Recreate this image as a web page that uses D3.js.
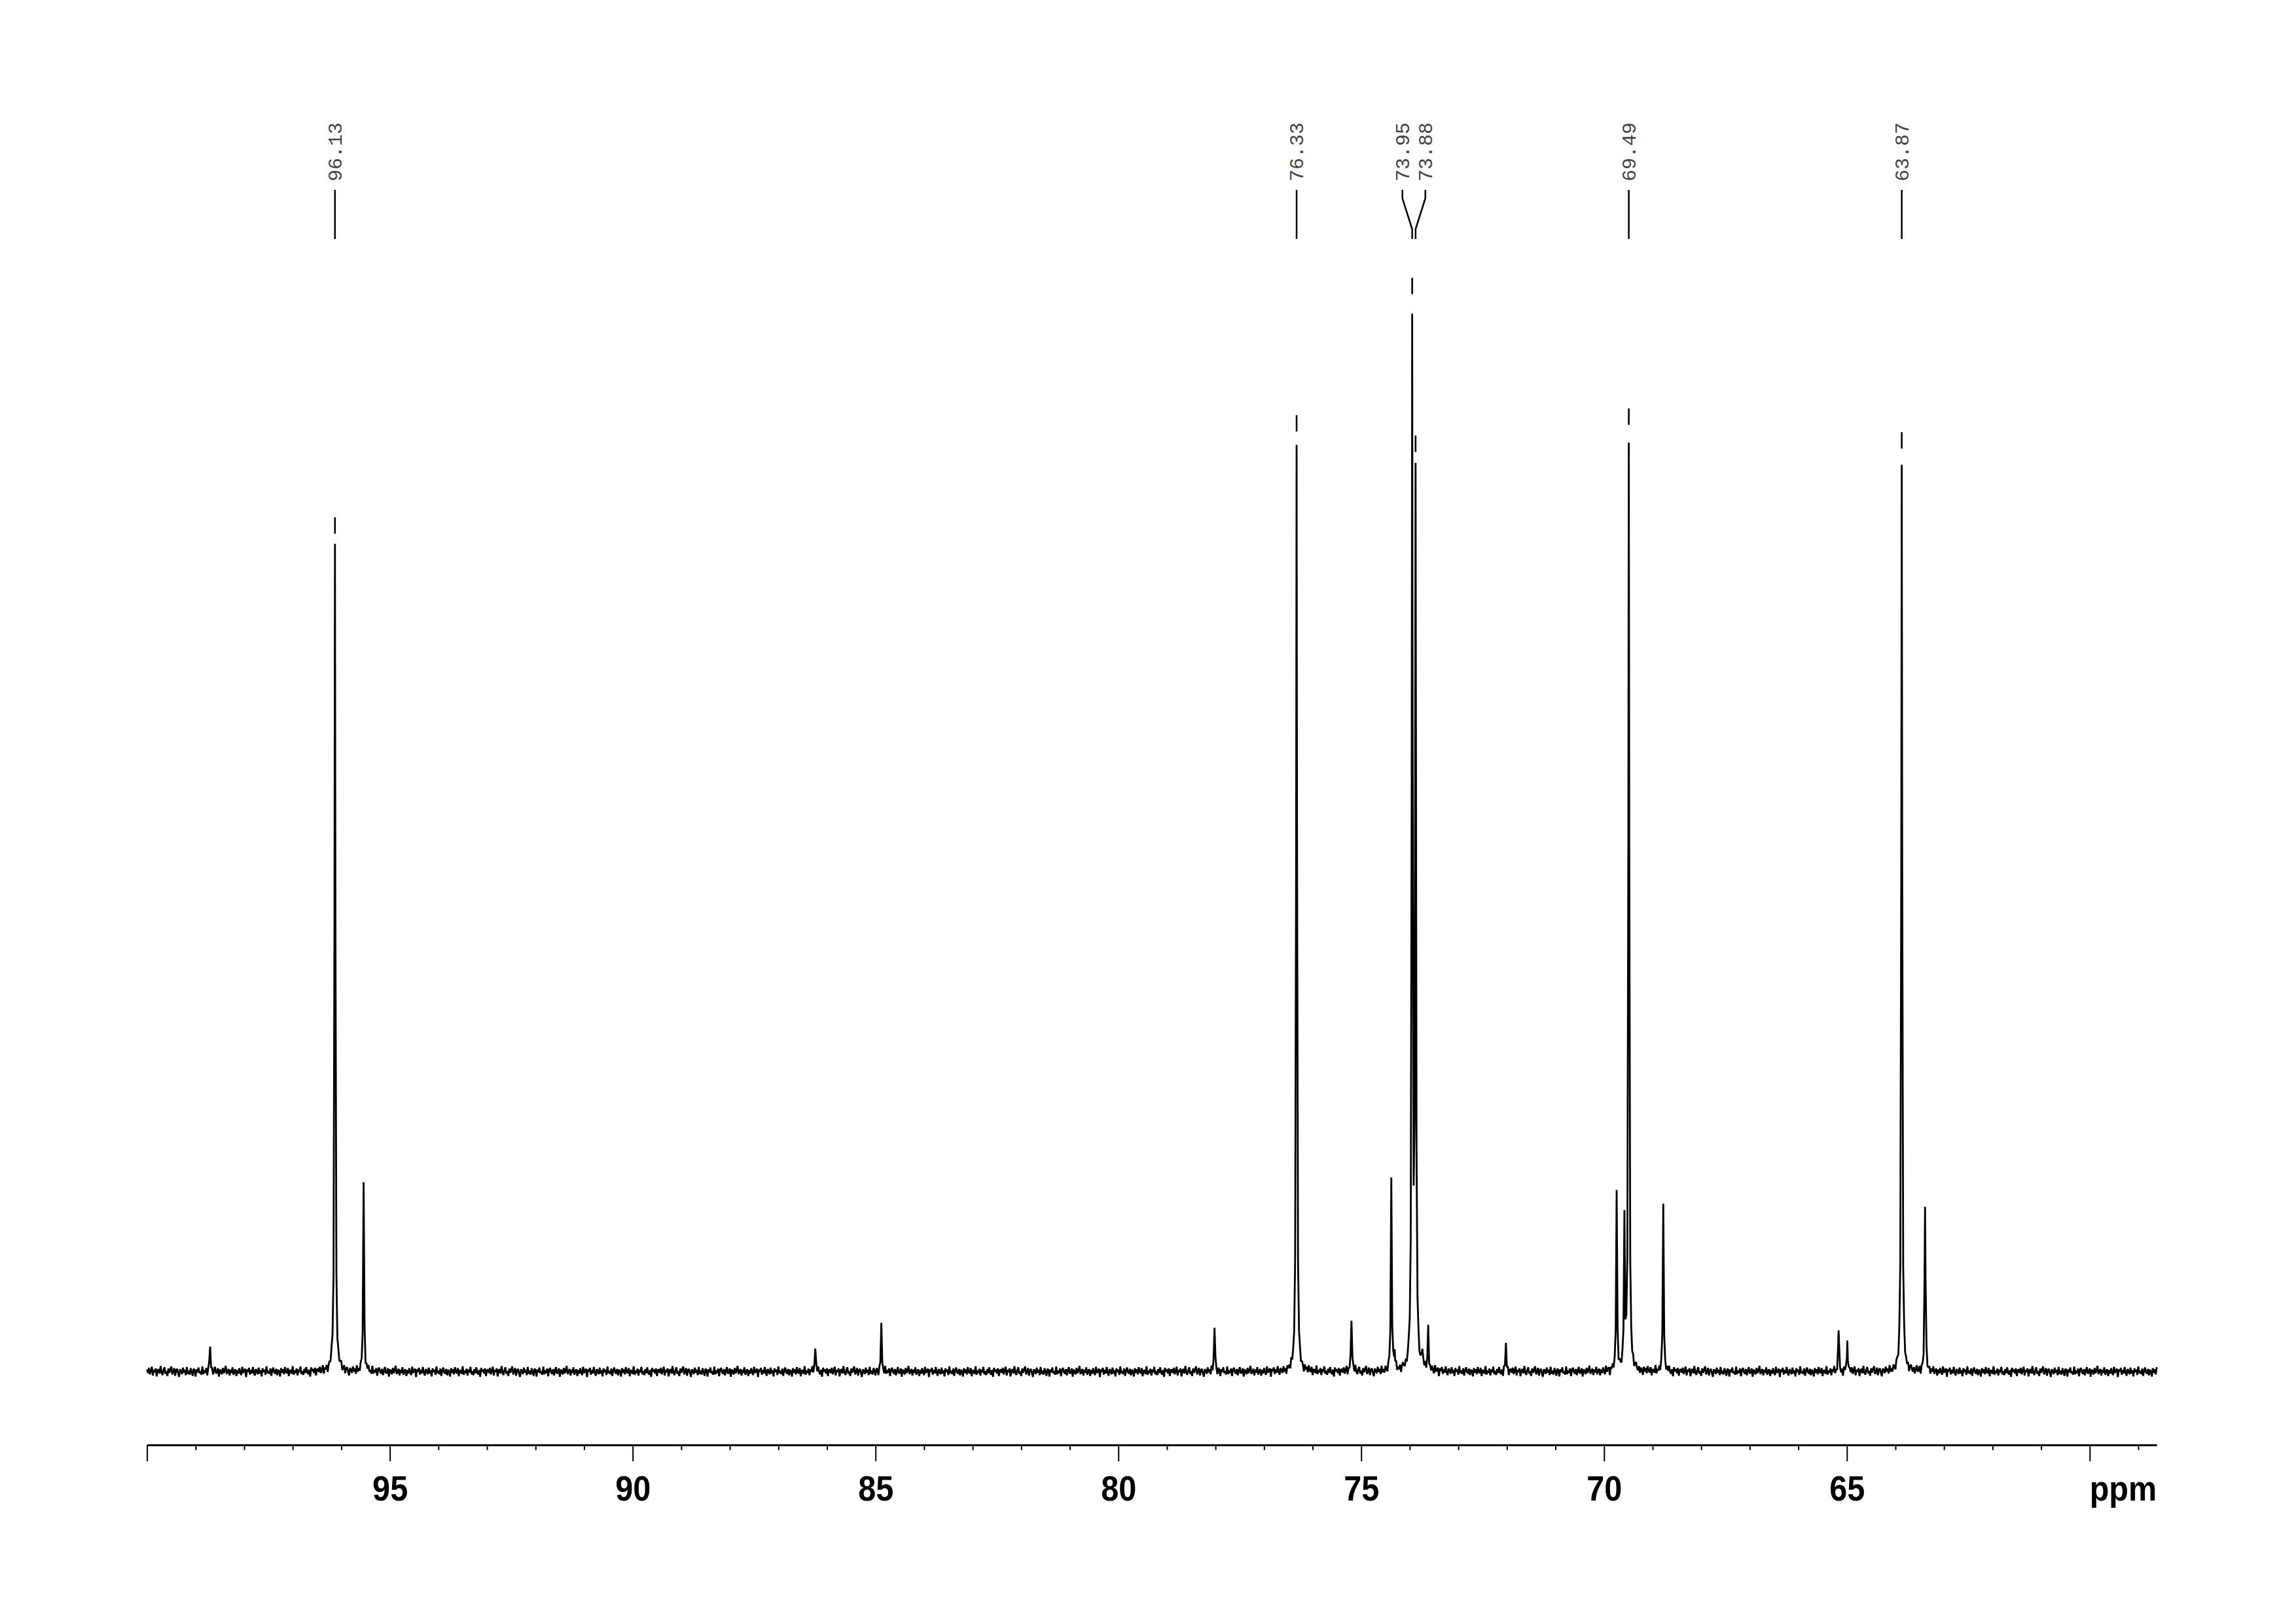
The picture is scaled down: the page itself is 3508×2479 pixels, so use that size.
<!DOCTYPE html>
<html>
<head>
<meta charset="utf-8">
<script src="https://cdn.jsdelivr.net/npm/d3@7/dist/d3.min.js"></script>
<style>
  html, body { margin: 0; padding: 0; background: #fff; }
  svg { display: block; }
</style>
</head>
<body>
<script>
// ---------- DATA ----------
// chemical shift range shown (ppm, reversed axis)
const ppmDomain = [100, 58.62];
// peak list: position (ppm) and height (relative, tallest = 100)
const peakShift  = [98.70, 96.13, 95.54, 86.24, 84.88, 78.02, 76.33, 75.20, 74.38, 74.31, 73.95, 73.88, 73.74, 73.62, 72.02, 69.74, 69.58, 69.49, 68.78, 65.17, 64.99, 63.87, 63.39];
const peakHeight = [  2.4,  77.4,  17.5,   2.5,   4.2,   4.4,  87.0,   5.2,  17.9,   1.5,  97.9,  82.7,   1.7,   3.9,   2.5,  16.4,  13.7,  87.4,  15.3,   4.0,   2.6,  85.4,  15.6];
// half width at half height of each line (ppm)
const lineHalfWidth = 0.011;
// peaks that carry a printed shift label
const labelledShift = [96.13, 76.33, 73.95, 73.88, 69.49, 63.87];
const labelText     = ["96.13", "76.33", "73.95", "73.88", "69.49", "63.87"];
// axis ticks
const majorTicks = [100, 95, 90, 85, 80, 75, 70, 65, 60];
const majorTickLabels = ["", "95", "90", "85", "80", "75", "70", "65", ""];
const minorTicks = [99,98,97,96,94,93,92,91,89,88,87,86,84,83,82,81,79,78,77,76,74,73,72,71,69,68,67,66,64,63,62,61,59];
const axisUnit = "ppm";
// baseline noise residual along the baseline (units of 1/60 of the height scale)
const baselineNoise = [12,-8,21,-15,4,27,-22,9,-3,18,-27,6,14,-11,31,-5,-19,8,24,-13,2,-25,17,-7,11,29,-16,-2,20,-23,7,15,-9,-30,13,3,-14,22,-6,10,-20,26,-12,5,-17,19,-1,-24,16,8,-28,12,-4,23,-10,1,-18,28,-15,6,-8,17,-26,9,21,-3,-13,14,-21,4,25,-11,-6,18,-29,11,2,-16,20,-9,7,32,-14,-2,15,-22,10,-7,24,-18,3,13,-25,8,-12,19,-4,-20,27,-8,5,16,-31,12,-1,21,-17,9,-10,26,-6,-23,14,2,-15,22,-11,7,-27,18,-3,11,-19,29,-9,4,-14,17,-24,6,23,-5,-12,15,-21,10,1,-28,19,-7,13,-16,25,-2,-10,20,-26,8,3,-13,30,-18,5,-8,16,-22,11,-4,27,-15,2,-20,14,-9,24,-6,-17,9,-30,21,-1,12,-11,18,-25,7];
const noiseUnit = 1 / 60;

// ---------- LAYOUT ----------
const W = 3508, H = 2479;
const plotLeft = 224.6, plotRight = 3295.2;
const baseY = 2095, refTopY = 470;
const axisY = 2207;
const sampleStep = 0.02;

const svg = d3.select("body").append("svg")
  .attr("width", W).attr("height", H)
  .attr("viewBox", `0 0 ${W} ${H}`);
svg.append("rect").attr("width", W).attr("height", H).attr("fill", "#fff");

const x = d3.scaleLinear().domain(ppmDomain).range([plotLeft, plotRight]);
const y = d3.scaleLinear().domain([0, 100]).range([baseY, refTopY]);

// ---------- SPECTRUM ----------
function lineSum(p) {
  let s = 0;
  const w2 = lineHalfWidth * lineHalfWidth;
  for (let k = 0; k < peakShift.length; k++) {
    const d = p - peakShift[k];
    s += peakHeight[k] * w2 / (w2 + d * d);
  }
  return s;
}

let grid = d3.range(ppmDomain[0], ppmDomain[1] - 1e-9, -sampleStep).concat(peakShift);
grid.sort((a, b) => b - a);
grid = grid.filter((v, i) => i === 0 || Math.abs(v - grid[i - 1]) > 1e-6);
const spectrum = grid.map((p, i) => [p, lineSum(p) + baselineNoise[i % baselineNoise.length] * noiseUnit]);

svg.append("path")
  .datum(spectrum)
  .attr("fill", "none")
  .attr("stroke", "#000")
  .attr("stroke-width", 2.8)
  .attr("stroke-linejoin", "bevel")
  .attr("d", d3.line().x(d => x(d[0])).y(d => y(d[1])));

// ---------- PEAK MARKERS & LABELS ----------
const peakX = labelledShift.map(p => x(p));
function spread(xs, s) {
  const merged = [];
  for (const v of xs) {
    merged.push({ sum: v, n: 1, start: v });
    while (merged.length > 1) {
      const b = merged[merged.length - 1], a = merged[merged.length - 2];
      if (a.start + a.n * s > b.start) {
        const sum = a.sum + b.sum, n = a.n + b.n;
        merged.splice(-2, 2, { sum, n, start: sum / n - (n - 1) * s / 2 });
      } else break;
    }
  }
  const out = [];
  merged.forEach(g => { for (let i = 0; i < g.n; i++) out.push(g.start + i * s); });
  return out;
}
const labelX = spread(peakX, 35);

const lbl = svg.append("g");
labelledShift.forEach((p, i) => {
  const px = peakX[i], lx = labelX[i];
  lbl.append("path")
    .attr("fill", "none").attr("stroke", "#000").attr("stroke-width", 2.5)
    .attr("d", d3.line()([[lx, 290], [lx, 303], [px, 350], [px, 365]]));
  lbl.append("text")
    .attr("transform", `translate(${lx + 10},277) rotate(-90)`)
    .attr("font-family", "'Liberation Mono', 'Courier New', monospace")
    .attr("font-size", 30)
    .attr("fill", "#444")
    .text(labelText[i]);
  const top = y(lineSum(p));
  lbl.append("line")
    .attr("x1", px).attr("x2", px)
    .attr("y1", top - 47).attr("y2", top - 22)
    .attr("stroke", "#000").attr("stroke-width", 2.6);
});

// ---------- AXIS ----------
const axisG = svg.append("g").attr("transform", `translate(0,${axisY})`);
axisG.call(d3.axisBottom(x).tickValues(majorTicks).tickSize(25).tickSizeOuter(0)
    .tickFormat((d, i) => majorTickLabels[i]));
axisG.select(".domain").attr("stroke", "#000").attr("stroke-width", 3.2);
axisG.selectAll(".tick line").attr("stroke", "#000").attr("stroke-width", 2);
axisG.selectAll(".tick text")
  .attr("y", 85).attr("dy", 0)
  .attr("transform", "scale(0.9,1)")
  .attr("font-family", "'Liberation Sans', Arial, sans-serif")
  .attr("font-weight", "bold")
  .attr("font-size", 54)
  .attr("fill", "#000");

const minorG = svg.append("g").attr("transform", `translate(0,${axisY})`);
minorG.call(d3.axisBottom(x).tickValues(minorTicks).tickSize(8).tickSizeOuter(0).tickFormat(""));
minorG.select(".domain").remove();
minorG.selectAll(".tick line").attr("stroke", "#000").attr("stroke-width", 2);

svg.append("text")
  .attr("transform", `translate(${x(ppmDomain[1])},${axisY + 85}) scale(0.9,1)`)
  .attr("text-anchor", "end")
  .attr("font-family", "'Liberation Sans', Arial, sans-serif")
  .attr("font-weight", "bold")
  .attr("font-size", 54)
  .attr("fill", "#000")
  .text(axisUnit);
</script>
</body>
</html>
